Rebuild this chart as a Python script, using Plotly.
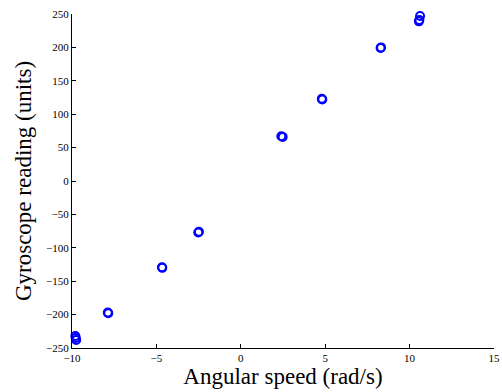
import plotly.graph_objects as go

angular_speed = [-9.80, -9.75, -9.78, -7.88, -7.85, -4.67, -4.65, -2.52, -2.48,
                 2.40, 2.48, 4.80, 4.83, 8.28, 8.31, 10.55, 10.58, 10.62]
gyro_reading = [-232, -238, -235, -197, -198, -129, -130, -77, -76,
                67, 66, 123, 122, 199, 200, 239, 241, 247]

x_ticks = [-10, -5, 0, 5, 10, 15]
y_ticks = [-250, -200, -150, -100, -50, 0, 50, 100, 150, 200, 250]

fig = go.Figure()
fig.add_trace(go.Scatter(
    x=angular_speed, y=gyro_reading, mode="markers", cliponaxis=False,
    marker=dict(symbol="circle-open", size=8, color="rgb(0,0,255)",
                line=dict(width=2, color="rgb(0,0,255)")),
    showlegend=False,
))

axis_common = dict(
    showgrid=False, zeroline=False, showline=True, linecolor="black", linewidth=1,
    ticks="inside", ticklen=4, tickcolor="black", tickwidth=1,
    tickfont=dict(family="Liberation Serif", size=11, color="black"),
)
fig.update_xaxes(range=[-10, 15], tickvals=x_ticks,
                 ticktext=[str(v).replace("-", "\u2212") for v in x_ticks],
                 title=dict(text="Angular speed (rad/s)", standoff=3,
                            font=dict(family="Liberation Serif", size=23, color="black")),
                 **axis_common)
fig.update_yaxes(range=[-250, 250], tickvals=y_ticks,
                 ticktext=[str(v).replace("-", "\u2212") for v in y_ticks],
                 title=dict(text="Gyroscope reading (units)", standoff=8,
                            font=dict(family="Liberation Serif", size=23, color="black")),
                 **axis_common)
fig.update_layout(
    width=502, height=392,
    margin=dict(l=72, r=8, t=14, b=44, autoexpand=False),
    paper_bgcolor="white", plot_bgcolor="white",
)
fig.write_html("out.html", config={"displayModeBar": False},
               post_script="document.body.style.margin='0';")
